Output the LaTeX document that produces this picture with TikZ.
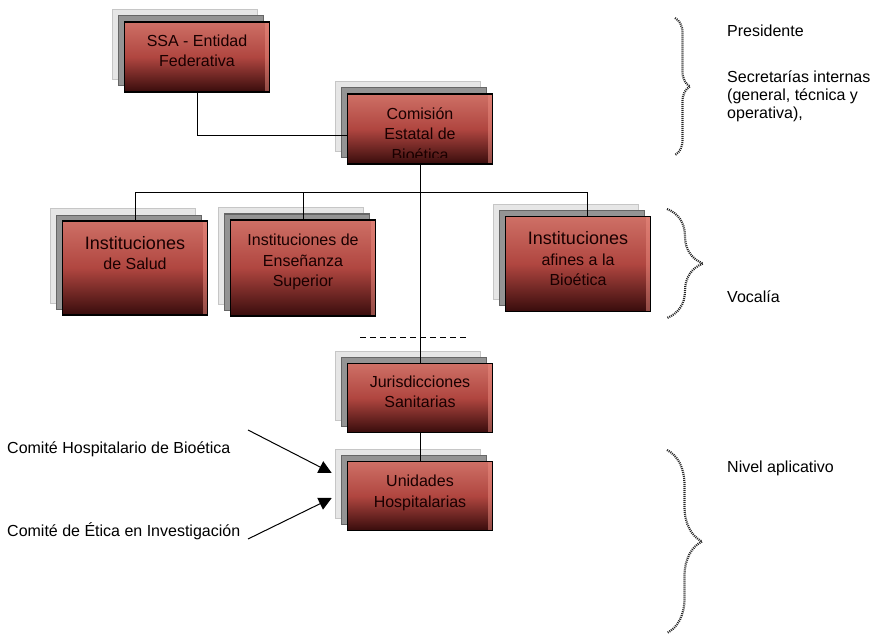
\documentclass[tikz,border=0pt]{standalone}
\usepackage{fontspec}
\setmainfont{Liberation Sans}
\usetikzlibrary{shadows,arrows.meta,calc,decorations.pathreplacing}

\definecolor{boxtop}{RGB}{206,112,102}
\definecolor{boxmid}{RGB}{176,70,64}
\definecolor{boxbot}{RGB}{56,12,12}
\definecolor{boxedge}{RGB}{236,140,128}
\definecolor{backlight}{RGB}{230,230,230}
\definecolor{backgrey}{RGB}{148,148,148}

\tikzset{
  textshift/.store in=\orgshift, textshift=6pt,
  boxtext/.style={font=\fontsize{16}{20.5}\selectfont, align=center, text=black!90!red, inner sep=0},
  orgbox/.style={draw=black, line width=1.5pt, minimum width=145,
    general shadow={fill=backlight, draw=gray!45, line width=1pt, shadow xshift=-12pt, shadow yshift=12pt},
    general shadow={fill=backgrey, draw=gray!80!black, line width=1pt, shadow xshift=-6pt, shadow yshift=6pt},
    top color=boxtop, bottom color=boxbot, middle color=boxmid,
    path picture={
      \fill[boxedge, opacity=.5] ([xshift=-5pt]path picture bounding box.north east) rectangle (path picture bounding box.south east);
      \clip ([yshift=6pt]path picture bounding box.south west) rectangle (path picture bounding box.north east);
      \node[boxtext] at ([yshift=\orgshift]path picture bounding box.center) {#1};}},
  link/.style={line width=1pt, black},
  arr/.style={-{Triangle[length=13pt,width=13pt]}, line width=1pt},
  lbl/.style={font=\fontsize{16}{18}\selectfont, inner sep=0, align=left},
  bracel/.style={decorate, line width=2.2pt, dash pattern=on 1pt off 1pt, black!85}
}

\begin{document}
\begin{tikzpicture}[x=1pt,y=-1pt]
  \useasboundingbox (0,0) rectangle (875,639);

  % boxes
  \node[orgbox={SSA - Entidad\\Federativa}, minimum height=70] (ssa) at (197,57) {};
  \node[orgbox={Comisión\\Estatal de\\Bioética}, textshift=-5pt, minimum height=70] (comision) at (420,129) {};
  \node[orgbox={{\fontsize{18}{20.5}\selectfont Instituciones}\\de Salud}, textshift=15pt, minimum height=94] (salud) at (135,268) {};
  \node[orgbox={Instituciones de\\Enseñanza\\Superior}, minimum height=96] (ensenanza) at (303,268) {};
  \node[orgbox={{\fontsize{18}{20.5}\selectfont Instituciones}\\afines a la\\Bioética}, textshift=5pt, minimum height=95] (afines) at (578,264) {};
  \node[orgbox={Jurisdicciones\\Sanitarias}, minimum height=69] (jurisd) at (420,398) {};
  \node[orgbox={Unidades\\Hospitalarias}, textshift=3pt, minimum height=69] (unidades) at (420,496) {};

  % connectors
  \draw[link] (ssa.south) |- ($(comision.west)+(0,7)$);
  \draw[link] (comision.south) -- (jurisd.north);
  \draw[link] (jurisd.south) -- (unidades.north);
  \coordinate (bus) at (587,193);
  \draw[link] (salud.north) |- (bus) -- (bus |- afines.north);
  \draw[link] (ensenanza.north) -- (ensenanza.north |- bus);
  \draw[link, dash pattern=on 6pt off 4pt] (360,337) -- (468,337);

  % comites
  \node[lbl, anchor=west] (chb) at (7,449) {Comité Hospitalario de Bioética};
  \node[lbl, anchor=west] (cei) at (7,531) {Comité de Ética en Investigación};
  \coordinate (chbstart) at (248,430);
  \coordinate (ceistart) at (248,539);
  \coordinate (chbtip) at ($(unidades.west)+(-15,-23)$);
  \coordinate (ceitip) at ($(unidades.west)+(-15,2)$);
  \draw[arr] (chbstart) -- (chbtip);
  \draw[arr] (ceistart) -- (ceitip);

  % braces
  \draw[bracel, decoration={brace, amplitude=15pt}] (675,18) -- (675,155);
  \draw[bracel, decoration={brace, amplitude=36pt}] (667,209) -- (667,318);
  \draw[bracel, decoration={brace, amplitude=35pt}] (667,450) -- (667,633);

  \node[lbl, anchor=west] (pres) at (727,31) {Presidente};
  \node[lbl, anchor=west] (secr) at (727,96) {Secretarías internas\\(general, técnica y\\operativa),};
  \node[lbl, anchor=west] (voc) at (727,297) {Vocalía};
  \node[lbl, anchor=west] (nivel) at (727,468) {Nivel aplicativo};
\end{tikzpicture}
\end{document}
